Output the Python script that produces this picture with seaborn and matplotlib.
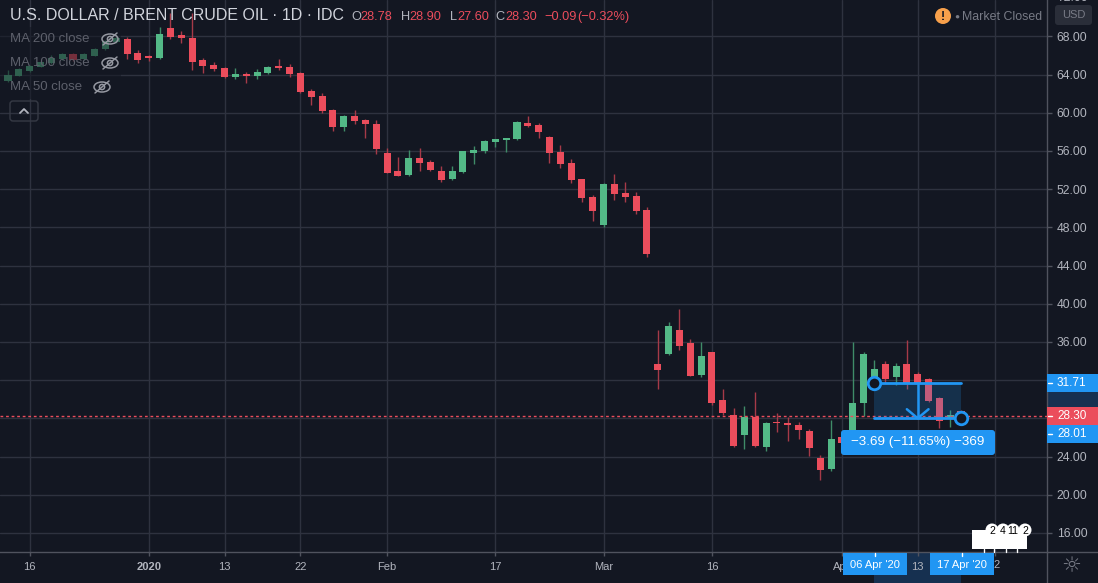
import numpy as np
import pandas as pd
import seaborn as sns
import matplotlib.pyplot as plt
from matplotlib.patches import Rectangle, FancyBboxPatch, Circle, Ellipse

# daily candles, 16 Dec 2019 .. 17 Apr 2020 (bar index 0..88)
opens = [63.37, 63.89, 64.41, 64.83, 65.25, 65.60, 66.16, 65.60, 65.99, 66.70,
         67.45, 67.73, 66.30, 65.95, 65.77, 68.88, 68.10, 67.83, 65.53, 65.04,
         64.69, 63.78, 64.10, 63.89, 64.20, 64.90, 64.80, 64.20, 62.31, 61.76,
         60.29, 58.54, 59.66, 59.25, 58.83, 55.79, 53.91, 53.49, 55.27, 54.85,
         53.91, 53.07, 53.80, 55.79, 56.00, 56.94, 57.16, 57.26, 58.93, 58.72,
         57.47, 55.90, 54.74, 53.07, 51.18, 48.25, 52.54, 51.60, 51.29, 49.82,
         33.70, 34.74, 37.26, 35.90, 32.54, 34.95, 29.93, 28.36, 26.26, 28.15,
         25.00, 27.62, 27.52, 27.31, 26.68, 23.85, 22.70, 26.05, 25.53, 29.61,
         32.02, 33.70, 32.33, 33.70, 32.65, 32.13, 30.14, 28.04, 28.78]
highs = [64.48, 64.70, 65.00, 65.45, 66.05, 66.25, 66.30, 66.25, 66.80, 67.65,
         68.00, 67.97, 66.58, 66.05, 69.02, 70.45, 68.53, 70.45, 65.70, 65.28,
         64.75, 64.64, 64.31, 64.59, 64.85, 65.63, 65.10, 64.25, 62.46, 62.04,
         60.35, 59.75, 60.29, 59.35, 59.25, 56.35, 55.37, 56.10, 56.31, 55.10,
         54.43, 54.43, 56.05, 56.52, 57.10, 57.30, 57.40, 59.10, 59.66, 58.93,
         57.55, 56.63, 55.16, 53.10, 51.39, 52.60, 53.59, 52.75, 51.71, 50.14,
         37.26, 38.09, 39.46, 36.31, 36.00, 35.00, 31.08, 29.09, 29.30, 30.76,
         27.60, 28.57, 28.15, 27.62, 26.89, 24.17, 27.83, 26.10, 36.00, 34.95,
         34.12, 34.01, 33.80, 36.21, 32.90, 32.23, 30.20, 28.88, 28.90]
lows = [63.25, 63.80, 64.30, 64.75, 65.15, 65.50, 65.45, 65.50, 65.90, 66.60,
        67.35, 65.63, 65.25, 65.42, 65.65, 67.76, 67.27, 64.48, 64.20, 64.38,
        63.68, 63.50, 63.16, 63.54, 64.10, 64.48, 63.70, 62.10, 60.82, 59.95,
        58.13, 58.13, 58.83, 57.39, 55.65, 53.65, 53.35, 53.38, 53.94, 53.90,
        52.75, 52.96, 53.70, 54.64, 55.79, 56.45, 55.93, 57.10, 58.55, 57.39,
        54.74, 54.22, 52.65, 50.66, 48.67, 48.04, 50.87, 50.66, 49.40, 44.90,
        31.08, 34.60, 35.16, 32.40, 32.33, 29.40, 28.36, 25.00, 24.80, 25.00,
        24.59, 26.58, 25.63, 25.84, 24.06, 21.55, 22.49, 25.30, 25.40, 28.26,
        31.90, 31.70, 31.50, 31.08, 31.60, 29.75, 27.00, 27.10, 27.60]
closes = [63.96, 64.56, 64.93, 65.35, 65.71, 66.16, 65.53, 66.16, 66.70, 67.55,
          67.87, 66.16, 65.53, 65.74, 68.25, 67.97, 67.87, 65.35, 64.90, 64.59,
          63.78, 64.06, 63.89, 64.31, 64.80, 64.72, 64.10, 62.21, 61.69, 60.22,
          58.54, 59.66, 59.17, 58.80, 56.21, 53.73, 53.41, 55.27, 54.74, 54.01,
          52.96, 53.91, 56.00, 56.10, 57.05, 57.26, 57.36, 59.04, 58.62, 57.99,
          55.79, 54.64, 52.96, 51.08, 49.72, 52.54, 51.50, 51.18, 49.72, 45.21,
          33.07, 37.68, 35.58, 32.44, 34.53, 29.61, 28.57, 25.11, 28.15, 25.11,
          27.52, 27.52, 27.31, 26.79, 24.90, 22.60, 25.84, 25.42, 29.61, 34.74,
          33.17, 32.13, 33.49, 31.71, 31.71, 29.82, 27.73, 28.39, 28.30]

date_ticks = [2, 13, 20, 27, 35, 45, 55, 65, 77, 84, 91.1]
date_labels = ['16', '2020', '13', '22', 'Feb', '17', 'Mar', '16', 'Apr', '13', '']
price_ticks = [16, 20, 24, 28, 32, 36, 40, 44, 48, 52, 56, 60, 64, 68]
hidden_price_labels = [28, 32]   # covered by the price boxes

# date & price range tool: (bar index, price)
range_start = [80, 31.71]
range_end = [88, 28.01]
range_text = '\u22123.69 (\u221211.65%) \u2212369'
range_dates = ["06 Apr '20", "17 Apr '20"]

BG = '#131722'
GRID = '#2e323f'
AXIS = '#50535e'
TXT = '#b2b5be'
UP, DN = '#53b987', '#eb4d5c'
UP_W, DN_W = '#3f8c68', '#a63a48'
BLUE = '#2196f3'
BAND = '#163050'

sns.set_theme(style='dark', rc={
    'axes.facecolor': BG, 'figure.facecolor': BG, 'grid.color': GRID,
    'axes.edgecolor': AXIS, 'text.color': TXT,
    'xtick.color': TXT, 'ytick.color': TXT, 'grid.linewidth': 1})
plt.rcParams['font.family'] = ['Liberation Sans', 'DejaVu Sans']

df = pd.DataFrame({'open': opens, 'high': highs, 'low': lows, 'close': closes})
df['idx'] = np.arange(len(df))
df['up'] = df['close'] >= df['open']
df['bottom'] = df[['open', 'close']].min(axis=1)
df['height'] = (df['close'] - df['open']).abs().clip(lower=0.14)

W, H = 1098, 583
fig = plt.figure(figsize=(W / 100, H / 100), dpi=100)
ax = fig.add_axes([0, 31 / H, 1047 / W, 552 / H])

# price -> pixel mapping of the panel
def py(p):
    return 533 - (p - 16) * 9.55

ax.set_ylim(14.01, 71.81)
ax.set_xlim(-0.74, 95.94)

ax.vlines(df['idx'], df['low'], df['high'],
          colors=np.where(df['up'], UP_W, DN_W), lw=1, zorder=2)
ax.bar(df['idx'], df['height'], bottom=df['bottom'], width=0.65,
       color=np.where(df['up'], UP, DN), linewidth=0, zorder=3)

ax.axhline(closes[-1], color=DN, lw=1, ls=(0, (2, 2)), zorder=4)

# range tool
x0, p0 = range_start
x1, p1 = range_end
ax.add_patch(Rectangle((x0, p1), x1 - x0, p0 - p1, facecolor=BLUE, alpha=0.2,
                       lw=0, zorder=5))
ax.plot([x0, x1], [p0, p0], color=BLUE, lw=2, zorder=6)
ax.plot([x0, x1], [p1, p1], color=BLUE, lw=2, zorder=6)
xm = (x0 + x1) / 2
ax.plot([xm, xm], [p0, p1], color=BLUE, lw=1.8, zorder=6)
ax.plot([xm - 1.0, xm, xm + 1.0], [p1 + 0.95, p1, p1 + 0.95], color=BLUE,
        lw=1.8, zorder=6)
ax.plot([x0, x1], [p0, p1], ls='none', marker='o', ms=9, mfc=BG, mec=BLUE,
        mew=2, zorder=7)

ax.set_yticks(price_ticks)
ax.set_yticklabels(['' if t in hidden_price_labels else f'{t:.2f}' for t in price_ticks])
ax.set_xticks(date_ticks)
ax.set_xticklabels(date_labels)
ax.get_xticklabels()[1].set_fontweight('bold')
ax.yaxis.tick_right()
ax.tick_params(axis='y', length=3.6, width=1, pad=3.5, labelsize=8.7,
               color=AXIS, labelcolor=TXT)
ax.tick_params(axis='x', length=3, width=1, pad=4, labelsize=8,
               color=AXIS, labelcolor=TXT, bottom=True)
ax.grid(True, color=GRID, lw=1)
for s in ['top', 'left']:
    ax.spines[s].set_visible(False)
for s in ['right', 'bottom']:
    ax.spines[s].set_color(AXIS)
    ax.spines[s].set_linewidth(1)

# bands under axis labels
under = fig.add_axes([0, 0, 1, 1], zorder=-1)
under.set_xlim(0, W)
under.set_ylim(H, 0)
under.axis('off')
under.add_patch(Rectangle((874, 553), 87, 30, color=BAND, lw=0))
under.add_patch(Rectangle((1047, py(p0)), 51, py(p1) - py(p0), color=BAND, lw=0))

# overlay in pixel coordinates
ov = fig.add_axes([0, 0, 1, 1], zorder=10)
ov.set_xlim(0, W)
ov.set_ylim(H, 0)
ov.axis('off')

ov.plot([1047, 1047], [552, H], color=AXIS, lw=1)
ov.plot([1047, W], [552, 552], color=AXIS, lw=1)

# header
ov.text(10, 16, 'U.S. DOLLAR / BRENT CRUDE OIL \u00b7 1D \u00b7 IDC', fontsize=11.5,
        color='#d1d4dc', va='center', ha='left')
chg = closes[-1] - closes[-2]
pct = chg / closes[-2] * 100
ohlc = [(351, 'O', TXT), (360, f'{opens[-1]:.2f}', DN),
        (400.7, 'H', TXT), (409.5, f'{highs[-1]:.2f}', DN),
        (450, 'L', TXT), (457, f'{lows[-1]:.2f}', DN),
        (495.7, 'C', TXT), (505, f'{closes[-1]:.2f}', DN),
        (544, f'{chg:.2f}'.replace('-', '\u2212'), DN),
        (577.7, f'({pct:.2f}%)'.replace('-', '\u2212'), DN)]
for x, t, c in ohlc:
    ov.text(x, 17, t, fontsize=9.2, color=c, va='center', ha='left')

# MA legend (hidden indicators)
ov.add_patch(Rectangle((0, 27), 121, 72, color=BG, alpha=0.55, lw=0))
EYE = '#9598a1'
for label, ty, ex in [('MA 200 close', 39, 110), ('MA 100 close', 63, 110),
                      ('MA 50 close', 87, 102)]:
    ov.text(10, ty, label, fontsize=9.5, color='#5d606b', va='center', ha='left')
    ov.add_patch(Ellipse((ex, ty), 16, 10, fill=False, ec=EYE, lw=1.1))
    ov.add_patch(Circle((ex, ty), 2.6, fill=False, ec=EYE, lw=1.1))
    ov.plot([ex - 7, ex + 7], [ty + 6, ty - 6], color=EYE, lw=1.1)
ov.add_patch(FancyBboxPatch((10, 101), 28, 20, boxstyle='round,pad=0,rounding_size=3',
                            fill=False, ec='#363a45', lw=1))
ov.plot([20, 24, 28], [113, 109, 113], color=TXT, lw=1.3)

# market status
ov.add_patch(Circle((943, 16), 8, color='#f7a04b', lw=0))
ov.text(943, 16.5, '!', fontsize=9, fontweight='bold', color='#131722',
        ha='center', va='center')
ov.text(954, 17, '\u25cf', fontsize=6, color='#787b86', ha='left', va='center')
ov.text(962, 17, 'Market Closed', fontsize=8.9, color='#787b86', ha='left', va='center')
ov.add_patch(FancyBboxPatch((1055, 5), 37, 20, boxstyle='round,pad=0,rounding_size=3',
                            color='#2a2e39', lw=0))
ov.text(1073.5, 15.5, 'USD', fontsize=8, color='#787b86', ha='center', va='center')
ov.text(1057, py(72), '72.00', fontsize=8.7, color=TXT, ha='left', va='center')

# price labels on the scale
for val, yc, col in [(p0, py(p0), BLUE), (closes[-1], py(closes[-1]), DN),
                     (p1, py(p1) + 16, BLUE)]:
    ov.add_patch(Rectangle((1047, yc - 9), 51, 18, color=col, lw=0))
    ov.plot([1048, 1052], [yc, yc], color='white', lw=1)
    ov.text(1057, yc, f'{val:.2f}', fontsize=8.5, color='white', ha='left', va='center')

# range tool label
ov.add_patch(FancyBboxPatch((841, 430), 154, 25, boxstyle='round,pad=0,rounding_size=3',
                            color=BLUE, lw=0))
ov.text(918, 442.5, range_text, fontsize=9.6, color='white', ha='center', va='center')

# date labels of the range tool
for xc, t in [(875, range_dates[0]), (961.5, range_dates[1])]:
    ov.add_patch(Rectangle((xc - 32, 553), 64, 22, color=BLUE, lw=0))
    ov.plot([xc, xc], [553, 556], color='white', lw=1)
    ov.text(xc, 564.5, t, fontsize=8, color='white', ha='center', va='center')
ov.text(997, 565, '2', fontsize=8, color=TXT, ha='center', va='center')

# events widget
ov.add_patch(Rectangle((972, 530), 55, 19, color='white', lw=0))
for xb, t in zip([992, 1003, 1013, 1025], ['2', '4', '11', '2']):
    ov.add_patch(Circle((xb, 530), 6.5, color='white', lw=0))
    ov.text(xb, 530.5, t, fontsize=7.5, color='black', ha='center', va='center')
for xt in [984, 994, 1006, 1017]:
    ov.plot([xt, xt], [549, 552], color='white', lw=1)

# settings icon
ov.text(1071, 566, '\u263c', fontsize=16, color='#787b86', ha='center', va='center',
        family='DejaVu Sans')

fig.savefig('out.png', dpi=100, facecolor=BG)
